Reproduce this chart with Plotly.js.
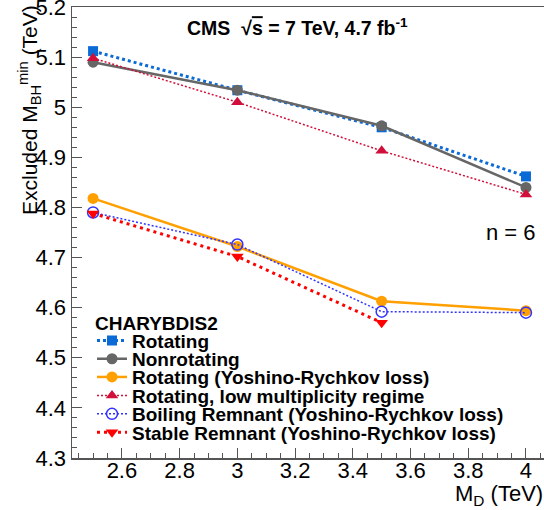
<!DOCTYPE html>
<html>
<head>
<meta charset="utf-8">
<script src="https://cdn.plot.ly/plotly-3.0.1.min.js"></script>
<style>
  html, body { margin: 0; padding: 0; background: #fff; overflow: hidden; }
  #chart { width: 560px; height: 510px; }
</style>
</head>
<body>
<div id="chart"></div>
<script>
// Fundamental Planck scale M_D (TeV)
const md = [2.5, 3.0, 3.5, 4.0];
const mdStable = [2.5, 3.0, 3.5];

// Excluded minimum black-hole mass (TeV), n = 6
const rotating     = [5.112, 5.034, 4.960, 4.862];
const nonrotating  = [5.090, 5.034, 4.963, 4.840];
const lowMult      = [5.098, 5.010, 4.913, 4.826];
const rotatingYR   = [4.818, 4.722, 4.613, 4.594];
const boilingYR    = [4.790, 4.726, 4.592, 4.590];
const stableYR     = [4.788, 4.702, 4.570];

const seriesNames = [
  'Rotating',
  'Nonrotating',
  'Rotating (Yoshino-Rychkov loss)',
  'Rotating, low multiplicity regime',
  'Boiling Remnant (Yoshino-Rychkov loss)',
  'Stable Remnant (Yoshino-Rychkov loss)'
];

const FONT = 'Liberation Sans, Arial, Helvetica, sans-serif';
const AXIS = '#555555';

// Plot frame in pixels: left 72, top 7, bottom 458
const plotL = 72, plotT = 7, plotB = 458, plotR = 550;
const plotW = plotR - plotL, plotH = plotB - plotT;
const px = x => (x - plotL) / plotW;
const py = y => (plotB - y) / plotH;

// legend rows (one legend per entry so the rows can sit close together)
const legendRowsY = [340.7, 358.9, 377.1, 395.6, 414.0, 432.5];

const traces = [
  { x: md, y: rotating, name: seriesNames[0], legend: 'legend',
    mode: 'lines+markers',
    line: { color: '#0a6ad6', width: 3, dash: '3px,3px' },
    marker: { symbol: 'square', size: 10, color: '#0a6ad6' } },
  { x: md, y: nonrotating, name: seriesNames[1], legend: 'legend2',
    mode: 'lines+markers',
    line: { color: '#666666', width: 2.5 },
    marker: { symbol: 'circle', size: 11, color: '#666666' } },
  { x: md, y: lowMult, name: seriesNames[3], legend: 'legend4',
    mode: 'lines+markers',
    line: { color: '#d0103a', width: 1.5, dash: '2px,2px' },
    marker: { symbol: 'triangle-up', size: 11, color: '#d0103a' } },
  { x: md, y: rotatingYR, name: seriesNames[2], legend: 'legend3',
    mode: 'lines+markers',
    line: { color: '#ffa000', width: 2.5 },
    marker: { symbol: 'circle', size: 11, color: '#ffa000' } },
  { x: md, y: boilingYR, name: seriesNames[4], legend: 'legend5',
    mode: 'lines+markers',
    line: { color: '#3333ff', width: 1.5, dash: '2px,2px' },
    marker: { symbol: 'circle-open', size: 11, color: '#3333ff', line: { width: 1.5 } } },
  { x: mdStable, y: stableYR, name: seriesNames[5], legend: 'legend6',
    mode: 'lines+markers',
    line: { color: '#ff0000', width: 3, dash: '3px,4px' },
    marker: { symbol: 'triangle-down', size: 11, color: '#ff0000' } }
];

const legendBase = i => ({
  x: px(92), y: py(legendRowsY[i]),
  xanchor: 'left', yanchor: 'middle',
  bgcolor: 'rgba(0,0,0,0)', borderwidth: 0,
  itemwidth: 30,
  font: { family: FONT, size: 19, weight: 'bold', color: '#000' },
  traceorder: 'normal'
});

const layout = {
  width: 560, height: 510,
  margin: { l: plotL, r: 560 - plotR, t: plotT, b: 510 - plotB },
  paper_bgcolor: '#fff', plot_bgcolor: '#fff',
  showlegend: true,
  legend: legendBase(0),
  legend2: legendBase(1),
  legend3: legendBase(2),
  legend4: legendBase(3),
  legend5: legendBase(4),
  legend6: legendBase(5),
  xaxis: {
    range: [2.427, 2.427 + plotW / 288.6],
    dtick: 0.2, tick0: 2.6,
    ticks: 'inside', ticklen: 10, tickwidth: 1, tickcolor: AXIS,
    minor: { dtick: 0.05, ticks: 'inside', ticklen: 5, tickcolor: AXIS, tickwidth: 1 },
    showline: true, linecolor: AXIS, linewidth: 1.5, mirror: true,
    showgrid: false, zeroline: false,
    ticklabelstandoff: -8,
    ticklabeloverflow: 'allow',
    tickfont: { family: FONT, size: 22, color: '#000' }
  },
  yaxis: {
    range: [4.2999, 5.2001],
    dtick: 0.1, tick0: 4.3,
    ticks: 'inside', ticklen: 10, tickwidth: 1, tickcolor: AXIS,
    minor: { dtick: 0.02, ticks: 'inside', ticklen: 5, tickcolor: AXIS, tickwidth: 1 },
    showline: true, linecolor: AXIS, linewidth: 1.5, mirror: true,
    showgrid: false, zeroline: false,
    ticklabeloverflow: 'allow',
    tickfont: { family: FONT, size: 22, color: '#000' }
  },
  annotations: [
    { xref: 'paper', yref: 'paper', x: px(297), y: py(27),
      xanchor: 'center', yanchor: 'middle', showarrow: false,
      text: 'CMS  \u221A<span style="text-decoration:overline">s</span> = 7 TeV, 4.7 fb<sup>-1</sup>',
      font: { family: FONT, size: 19.5, weight: 'bold', color: '#000' } },
    { xref: 'paper', yref: 'paper', x: px(538), y: py(232),
      xanchor: 'right', yanchor: 'middle', showarrow: false,
      text: 'n = 6',
      font: { family: FONT, size: 22, color: '#000' } },
    { xref: 'paper', yref: 'paper', x: px(93), y: py(323),
      xanchor: 'left', yanchor: 'middle', showarrow: false,
      text: 'CHARYBDIS2',
      font: { family: FONT, size: 19, weight: 'bold', color: '#000' } },
    { xref: 'paper', yref: 'paper', x: px(545), y: py(495),
      xanchor: 'right', yanchor: 'middle', showarrow: false,
      text: 'M<sub>D</sub> (TeV)',
      font: { family: FONT, size: 22, color: '#000' } },
    { xref: 'paper', yref: 'paper', x: px(29), y: py(3),
      xanchor: 'center', yanchor: 'top', showarrow: false, textangle: -90,
      text: 'Excluded M<sub>BH</sub><sup>min</sup> (TeV)',
      font: { family: FONT, size: 21, color: '#000' } }
  ]
};

Plotly.newPlot('chart', traces, layout, { displayModeBar: false, staticPlot: true });
</script>
</body>
</html>
